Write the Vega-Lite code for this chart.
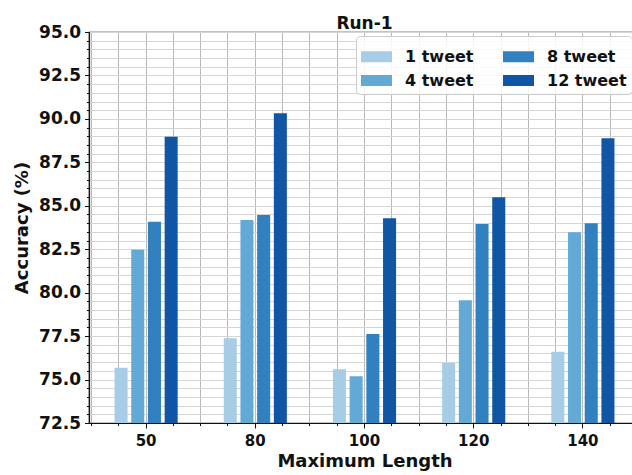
{
  "$schema": "https://vega.github.io/schema/vega-lite/v6.json",
  "autosize": "none",
  "width": 551,
  "height": 391,
  "padding": {"left": 89, "top": 32, "right": -8, "bottom": 52},
  "background": "white",
  "title": {"text": "Run-1", "fontSize": 17, "font": "DejaVu Sans", "fontWeight": "bold", "offset": -10, "color": "#111"},
  "config": {
    "view": {"stroke": "#111", "strokeWidth": 1.2},
    "axis": {"domainColor": "#111", "domainWidth": 1.2, "tickColor": "#111", "labelFont": "DejaVu Sans", "titleFont": "DejaVu Sans", "labelFontWeight": "bold", "titleFontWeight": "bold", "labelColor": "#111", "titleColor": "#111"}
  },
  "data": {"values": [
    {"length": 50, "series": "1 tweet", "acc": 75.68},
    {"length": 50, "series": "4 tweet", "acc": 82.47},
    {"length": 50, "series": "8 tweet", "acc": 84.08},
    {"length": 50, "series": "12 tweet", "acc": 88.97},
    {"length": 80, "series": "1 tweet", "acc": 77.37},
    {"length": 80, "series": "4 tweet", "acc": 84.18},
    {"length": 80, "series": "8 tweet", "acc": 84.47},
    {"length": 80, "series": "12 tweet", "acc": 90.33},
    {"length": 100, "series": "1 tweet", "acc": 75.6},
    {"length": 100, "series": "4 tweet", "acc": 75.19},
    {"length": 100, "series": "8 tweet", "acc": 77.62},
    {"length": 100, "series": "12 tweet", "acc": 84.28},
    {"length": 120, "series": "1 tweet", "acc": 75.95},
    {"length": 120, "series": "4 tweet", "acc": 79.57},
    {"length": 120, "series": "8 tweet", "acc": 83.95},
    {"length": 120, "series": "12 tweet", "acc": 85.49},
    {"length": 140, "series": "1 tweet", "acc": 76.6},
    {"length": 140, "series": "4 tweet", "acc": 83.47},
    {"length": 140, "series": "8 tweet", "acc": 84.0},
    {"length": 140, "series": "12 tweet", "acc": 88.88}
  ]},
  "resolve": {"axis": {"x": "independent"}},
  "layer": [
    {
      "mark": {"type": "rule", "opacity": 0},
      "encoding": {
        "x": {"field": "length", "type": "ordinal", "axis": {"orient": "bottom", "bandPosition": -0.066, "labels": false, "title": null, "domain": false, "ticks": true, "tickSize": 2.5, "grid": true, "gridColor": "#b8b8b8", "gridWidth": 1}}
      }
    },
    {
      "mark": {"type": "rule", "opacity": 0},
      "encoding": {
        "x": {"field": "length", "type": "ordinal", "axis": {"orient": "bottom", "bandPosition": 0.217, "labels": false, "title": null, "domain": false, "ticks": true, "tickSize": 2.5, "grid": true, "gridColor": "#b8b8b8", "gridWidth": 1}}
      }
    },
    {
      "mark": {"type": "rule", "opacity": 0},
      "encoding": {
        "x": {"field": "length", "type": "ordinal", "axis": {"orient": "bottom", "bandPosition": 0.783, "labels": false, "title": null, "domain": false, "ticks": true, "tickSize": 2.5, "grid": true, "gridColor": "#b8b8b8", "gridWidth": 1}}
      }
    },
    {
      "mark": {"type": "bar", "clip": true},
      "encoding": {
        "x": {
          "field": "length", "type": "ordinal",
          "scale": {"paddingInner": 0.116, "paddingOuter": 0.081},
          "axis": {"orient": "bottom", "bandPosition": 0.5, "title": "Maximum Length", "titleFontSize": 18, "titlePadding": 4, "labelFontSize": 15, "labelAngle": 0, "labelPadding": 5, "tickSize": 5, "grid": true, "gridColor": "#b8b8b8", "gridWidth": 1}
        },
        "xOffset": {
          "field": "series", "type": "nominal",
          "sort": ["1 tweet", "4 tweet", "8 tweet", "12 tweet"],
          "scale": {"paddingInner": 0.22, "paddingOuter": 1}
        },
        "y": {
          "field": "acc", "type": "quantitative",
          "scale": {"domain": [72.5, 95], "nice": false, "zero": false},
          "axis": {
            "title": "Accuracy (%)", "titleFontSize": 18, "titlePadding": 7,
            "values": [72.5, 73, 73.5, 74, 74.5, 75, 75.5, 76, 76.5, 77, 77.5, 78, 78.5, 79, 79.5, 80, 80.5, 81, 81.5, 82, 82.5, 83, 83.5, 84, 84.5, 85, 85.5, 86, 86.5, 87, 87.5, 88, 88.5, 89, 89.5, 90, 90.5, 91, 91.5, 92, 92.5, 93, 93.5, 94, 94.5, 95],
            "labelExpr": "abs(datum.value/2.5 - round(datum.value/2.5)) < 0.001 ? format(datum.value, '.1f') : ''",
            "labelFontSize": 17, "labelPadding": 4, "labelOverlap": false,
            "tickSize": {"condition": {"test": "abs(datum.value/2.5 - round(datum.value/2.5)) < 0.001", "value": 4.5}, "value": 2.5},
            "grid": true, "gridColor": "#d5d5d5", "gridWidth": 1
          }
        },
        "color": {
          "field": "series", "type": "nominal",
          "scale": {"domain": ["1 tweet", "4 tweet", "8 tweet", "12 tweet"], "range": ["#a6cde5", "#63a9d6", "#3181c0", "#1156a4"]},
          "legend": {
            "title": null, "orient": "none", "legendX": 267, "legendY": 4,
            "columns": 2, "columnPadding": 29, "rowPadding": 0,
            "padding": 5, "fillColor": "rgba(255,255,255,0.85)", "strokeColor": "#cccccc", "cornerRadius": 4,
            "labelFont": "DejaVu Sans", "labelFontWeight": "bold", "labelFontSize": 16, "labelColor": "#111", "labelOffset": 13,
            "symbolType": "M-1,-0.355H1V0.355H-1Z", "symbolSize": 961, "symbolStrokeWidth": 0, "symbolOpacity": 1
          }
        }
      }
    }
  ]
}
